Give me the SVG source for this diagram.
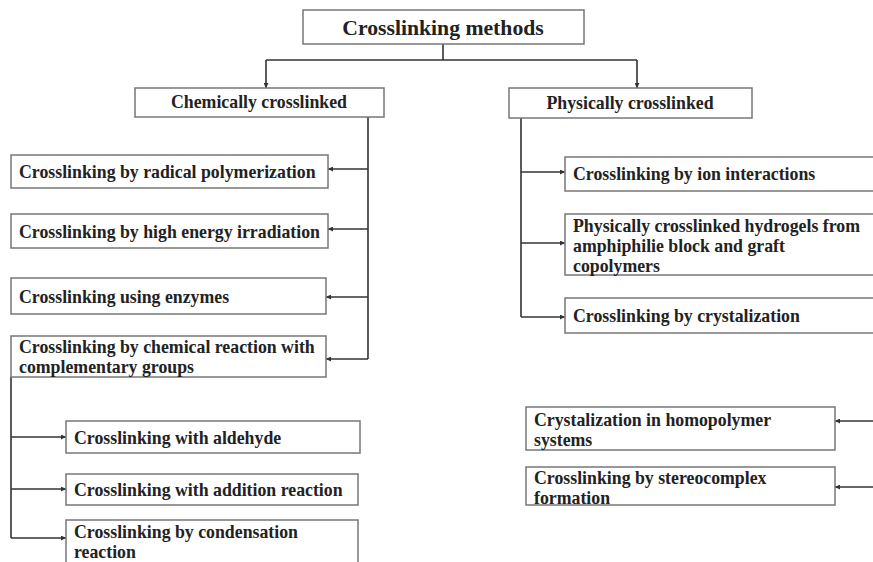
<svg xmlns="http://www.w3.org/2000/svg" width="873" height="562" viewBox="0 0 873 562">
<defs>
<style>
.box{fill:#fff;stroke:#777;stroke-width:1.5}
.t{font-family:"Liberation Serif","Times New Roman",serif;font-weight:bold;font-size:17.8px;fill:#222}
.title{font-size:21.7px}
.c{fill:none;stroke:#333;stroke-width:1.6}
</style>
<marker id="ah" viewBox="0 0 6 6" refX="6" refY="3" markerWidth="5" markerHeight="5" orient="auto" markerUnits="userSpaceOnUse">
<path d="M0,0 L6,3 L0,6 z" fill="#333"/>
</marker>
</defs>
<rect width="873" height="562" fill="#fff"/>
<g id="connectors">
<path class="c" d="M443,44 V60"/>
<path class="c" d="M266,60 H637"/>
<path class="c" d="M266,60 V88" marker-end="url(#ah)"/>
<path class="c" d="M637,60 V88" marker-end="url(#ah)"/>
<path class="c" d="M368,117 V359"/>
<path class="c" d="M368,169 H328" marker-end="url(#ah)"/>
<path class="c" d="M368,229 H328" marker-end="url(#ah)"/>
<path class="c" d="M368,297 H326" marker-end="url(#ah)"/>
<path class="c" d="M368,359 H326" marker-end="url(#ah)"/>
<path class="c" d="M11,377 V538"/>
<path class="c" d="M11,437 H66" marker-end="url(#ah)"/>
<path class="c" d="M11,489 H66" marker-end="url(#ah)"/>
<path class="c" d="M11,538 H66" marker-end="url(#ah)"/>
<path class="c" d="M521,118 V317"/>
<path class="c" d="M521,172 H565" marker-end="url(#ah)"/>
<path class="c" d="M521,243 H565" marker-end="url(#ah)"/>
<path class="c" d="M521,317 H565" marker-end="url(#ah)"/>
<path class="c" d="M873,421 H835" marker-end="url(#ah)"/>
<path class="c" d="M873,487 H835" marker-end="url(#ah)"/>
</g>
<g id="n-methods"><rect class="box" x="303" y="10" width="281" height="34"/><text class="t title" x="443" y="35" text-anchor="middle">Crosslinking methods</text></g>
<g id="n-chem"><rect class="box" x="135" y="88" width="249" height="29"/><text class="t" x="259" y="108" text-anchor="middle">Chemically crosslinked</text></g>
<g id="n-phys"><rect class="box" x="509" y="88" width="243" height="30"/><text class="t" x="630" y="109" text-anchor="middle">Physically crosslinked</text></g>
<g id="n-radical"><rect class="box" x="11" y="155" width="317" height="33"/><text class="t" x="19" y="178">Crosslinking by radical polymerization</text></g>
<g id="n-irradiation"><rect class="box" x="11" y="214" width="317" height="34"/><text class="t" x="19" y="238">Crosslinking by high energy irradiation</text></g>
<g id="n-enzymes"><rect class="box" x="11" y="278" width="315" height="36"/><text class="t" x="19" y="303">Crosslinking using enzymes</text></g>
<g id="n-chemreact"><rect class="box" x="11" y="336" width="315" height="41"/><text class="t" x="19" y="353">Crosslinking by chemical reaction with</text><text class="t" x="19" y="373">complementary groups</text></g>
<g id="n-aldehyde"><rect class="box" x="66" y="421" width="294" height="32"/><text class="t" x="74" y="444">Crosslinking with aldehyde</text></g>
<g id="n-addition"><rect class="box" x="66" y="474" width="292" height="31"/><text class="t" x="74" y="496">Crosslinking with addition reaction</text></g>
<g id="n-condensation"><rect class="box" x="66" y="520" width="292" height="50"/><text class="t" x="74" y="538">Crosslinking by condensation</text><text class="t" x="74" y="558">reaction</text></g>
<g id="n-ion"><rect class="box" x="565" y="157" width="320" height="34"/><text class="t" x="573" y="180">Crosslinking by ion interactions</text></g>
<g id="n-hydrogels"><rect class="box" x="565" y="214" width="320" height="61"/><text class="t" x="573" y="232">Physically crosslinked hydrogels from</text><text class="t" x="573" y="252">amphiphilie block and graft</text><text class="t" x="573" y="272">copolymers</text></g>
<g id="n-crystal"><rect class="box" x="565" y="298" width="320" height="35"/><text class="t" x="573" y="322">Crosslinking by crystalization</text></g>
<g id="n-homopolymer"><rect class="box" x="526" y="407" width="309" height="43"/><text class="t" x="534" y="426">Crystalization in homopolymer</text><text class="t" x="534" y="446">systems</text></g>
<g id="n-stereo"><rect class="box" x="526" y="467" width="309" height="38"/><text class="t" x="534" y="484">Crosslinking by stereocomplex</text><text class="t" x="534" y="504">formation</text></g>
</svg>
